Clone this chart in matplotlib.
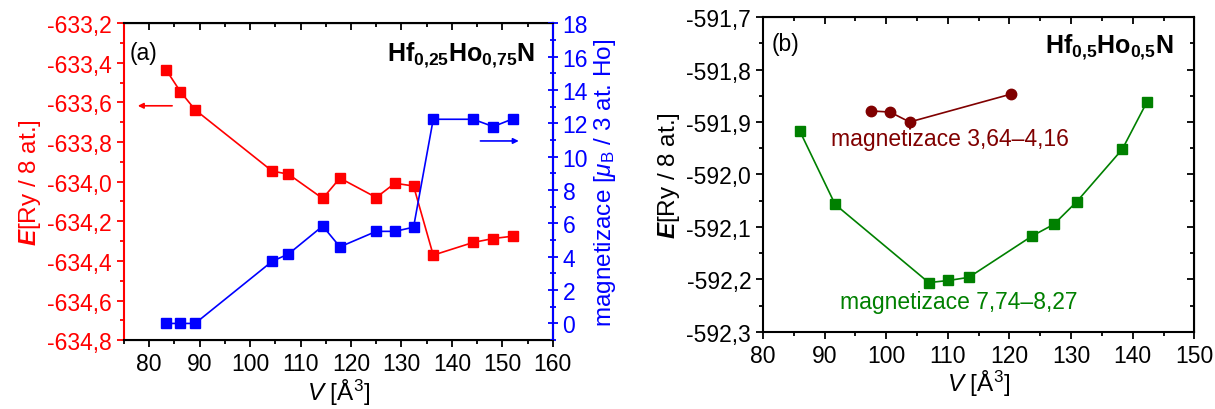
import matplotlib
matplotlib.use("Agg")
import matplotlib.pyplot as plt
from matplotlib.ticker import MultipleLocator, FuncFormatter

plt.rcParams['font.family'] = ['Liberation Sans', 'DejaVu Sans']
plt.rcParams['mathtext.fontset'] = 'custom'
plt.rcParams['mathtext.rm'] = 'Liberation Sans'
plt.rcParams['mathtext.it'] = 'Liberation Sans:italic'
plt.rcParams['mathtext.bf'] = 'Liberation Sans:bold'
plt.rcParams['mathtext.bfit'] = 'Liberation Sans:bold:italic'

# panel (a): Hf0,25Ho0,75N
V_a = [83.4, 86.2, 89.1, 104.4, 107.6, 114.4, 117.8, 125.0, 128.7, 132.4, 136.3, 144.2, 148.2, 152.2]
E_a = [-633.437, -633.546, -633.637, -633.947, -633.962, -634.085, -633.982, -634.080, -634.008,
       -634.022, -634.371, -634.307, -634.287, -634.275]
M_a = [0.0, 0.0, 0.0, 3.73, 4.16, 5.84, 4.59, 5.52, 5.52, 5.77, 12.24, 12.24, 11.80, 12.28]

# panel (b): Hf0,5Ho0,5N
V_lo = [97.6, 100.6, 103.8, 120.2]
E_lo = [-591.879, -591.881, -591.900, -591.847]
V_hi = [86.0, 91.7, 106.9, 110.1, 113.4, 123.7, 127.2, 130.9, 138.3, 142.3]
E_hi = [-591.918, -592.057, -592.206, -592.202, -592.196, -592.117, -592.095, -592.052,
        -591.952, -591.862]

RED = '#ff0000'
BLUE = '#0000ff'
GREEN = '#008000'
WINE = '#800000'
FS = 16.5   # tick labels
LFS = 17.5  # axis labels

comma = FuncFormatter(lambda v, p: ('%.1f' % v).replace('.', ','))
intfmt = FuncFormatter(lambda v, p: '%d' % round(v))

fig = plt.figure(figsize=(12.15, 4.1), dpi=100)
ax1 = fig.add_axes([0.102, 0.168, 0.353, 0.773])
ax3 = fig.add_axes([0.628, 0.188, 0.355, 0.768])

# ---------- panel (a)
ax1.plot(V_a, E_a, '-s', color=RED, ms=7.5, lw=1.2)
ax1.set_xlim(75, 160)
ax1.set_ylim(-634.8, -633.2)
ax1.xaxis.set_major_locator(MultipleLocator(10))
ax1.xaxis.set_minor_locator(MultipleLocator(5))
ax1.yaxis.set_major_locator(MultipleLocator(0.2))
ax1.yaxis.set_minor_locator(MultipleLocator(0.1))
ax1.yaxis.set_major_formatter(comma)
ax1.tick_params(which='both', direction='out', labelsize=FS, width=1.3)
ax1.tick_params(which='major', length=5)
ax1.tick_params(which='minor', length=3)
ax1.tick_params(axis='y', which='both', colors=RED)
ax1.spines['left'].set_color(RED)
for s in ax1.spines.values():
    s.set_linewidth(1.5)
ax1.set_ylabel(r'$\mathbfit{E}$[Ry / 8 at.]', fontsize=LFS, color=RED, labelpad=3)
ax1.set_xlabel(r'$\mathit{V}$ [Å$^3$]', fontsize=LFS, labelpad=1)

top1 = ax1.secondary_xaxis('top')
top1.xaxis.set_major_locator(MultipleLocator(10))
top1.xaxis.set_minor_locator(MultipleLocator(5))
top1.tick_params(which='both', direction='in', labeltop=False, width=1.3)
top1.tick_params(which='major', length=5)
top1.tick_params(which='minor', length=3)

ax2 = ax1.twinx()
ax2.plot(V_a, M_a, '-s', color=BLUE, ms=7.5, lw=1.2)
ax2.set_ylim(-1, 18)
ax2.yaxis.set_major_locator(MultipleLocator(2))
ax2.yaxis.set_minor_locator(MultipleLocator(1))
ax2.yaxis.set_major_formatter(intfmt)
ax2.tick_params(which='both', direction='inout', colors=BLUE, labelsize=FS, width=1.3)
ax2.tick_params(which='major', length=7)
ax2.tick_params(which='minor', length=4)
ax2.spines['right'].set_color(BLUE)
ax2.spines['right'].set_linewidth(1.5)
ax2.spines['left'].set_visible(False)
ax2.set_ylabel(r'magnetizace [$\mathit{\mu}_\mathrm{B}$ / 3 at. Ho]', fontsize=LFS, color=BLUE,
               labelpad=3)

ax1.annotate('', xy=(77.2, -633.617), xytext=(85.1, -633.617),
             arrowprops=dict(arrowstyle='-|>', color=RED, lw=1.2, mutation_scale=8))
ax2.annotate('', xy=(153.8, 10.94), xytext=(145.1, 10.94),
             arrowprops=dict(arrowstyle='-|>', color=BLUE, lw=1.2, mutation_scale=8))

ax1.text(0.014, 0.908, '(a)', transform=ax1.transAxes, fontsize=FS, va='center', ha='left')
ax1.text(0.958, 0.902, r'$\mathbf{Hf_{0{,}25}Ho_{0{,}75}N}$', transform=ax1.transAxes,
         fontsize=18, va='center', ha='right')

# ---------- panel (b)
ax3.plot(V_lo, E_lo, '-o', color=WINE, ms=7.5, lw=1.2)
ax3.plot(V_hi, E_hi, '-s', color=GREEN, ms=6.5, lw=1.2)
ax3.set_xlim(80, 150)
ax3.set_ylim(-592.3, -591.7)
ax3.xaxis.set_major_locator(MultipleLocator(10))
ax3.xaxis.set_minor_locator(MultipleLocator(5))
ax3.yaxis.set_major_locator(MultipleLocator(0.1))
ax3.yaxis.set_minor_locator(MultipleLocator(0.05))
ax3.yaxis.set_major_formatter(comma)
ax3.tick_params(which='both', direction='out', labelsize=FS, width=1.3)
ax3.tick_params(which='major', length=5)
ax3.tick_params(which='minor', length=3)
for s in ax3.spines.values():
    s.set_linewidth(1.5)
ax3.set_ylabel(r'$\mathbfit{E}$[Ry / 8 at.]', fontsize=LFS, labelpad=3)
ax3.set_xlabel(r'$\mathit{V}$ [Å$^3$]', fontsize=LFS, labelpad=1)

top3 = ax3.secondary_xaxis('top')
top3.xaxis.set_major_locator(MultipleLocator(10))
top3.xaxis.set_minor_locator(MultipleLocator(5))
top3.tick_params(which='both', direction='in', labeltop=False, width=1.3)
top3.tick_params(which='major', length=5)
top3.tick_params(which='minor', length=3)
right3 = ax3.secondary_yaxis('right')
right3.yaxis.set_major_locator(MultipleLocator(0.1))
right3.yaxis.set_minor_locator(MultipleLocator(0.05))
right3.tick_params(which='both', direction='in', labelright=False, width=1.3)
right3.tick_params(which='major', length=5)
right3.tick_params(which='minor', length=3)

ax3.text(0.021, 0.917, '(b)', transform=ax3.transAxes, fontsize=FS, va='center', ha='left')
ax3.text(0.951, 0.908, r'$\mathbf{Hf_{0{,}5}Ho_{0{,}5}N}$', transform=ax3.transAxes,
         fontsize=18, va='center', ha='right')
ax3.text(110.4, -591.932, 'magnetizace 3,64–4,16', color=WINE, fontsize=FS,
         ha='center', va='center')
ax3.text(111.7, -592.242, 'magnetizace 7,74–8,27', color=GREEN, fontsize=FS,
         ha='center', va='center')

fig.savefig('out.png', dpi=100)
